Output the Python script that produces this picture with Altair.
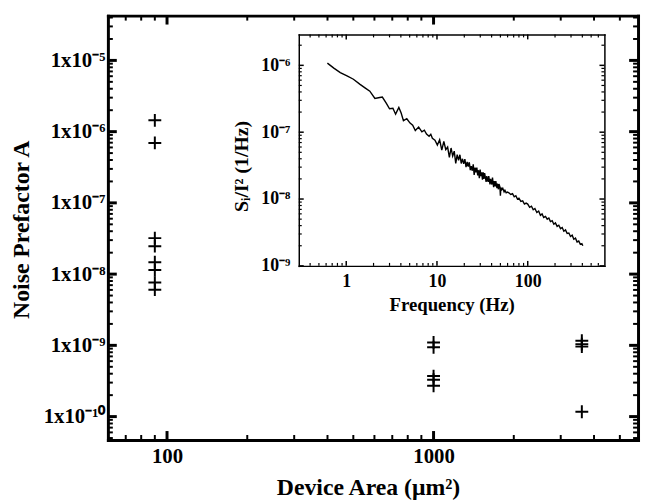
import math
import altair as alt
import pandas as pd

# ---------------- data ----------------
area = [90, 90, 90, 90, 90, 90, 90, 90,
        1000, 1000, 1000, 1000, 1000,
        3600, 3600, 3600, 3600]
prefactor = [1.44e-6, 6.95e-7, 3.2e-8, 2.47e-8, 1.47e-8, 1.14e-8, 7.6e-9, 6.05e-9,
             1.10e-9, 9.4e-10, 3.7e-10, 3.3e-10, 2.7e-10,
             1.16e-9, 1.04e-9, 9.6e-10, 1.17e-10]

freq = [0.62, 0.73, 0.86, 1.02, 1.2, 1.42, 1.61, 1.82, 2.07, 2.34, 2.5, 2.77, 3.0, 3.27,
        3.5, 3.8, 4.03, 4.27, 4.65, 5.05, 5.4, 5.77, 6.28, 6.82, 7.26, 7.67, 8.19, 8.55, 8.9,
        9.5, 10.1, 10.7, 11.3, 11.9, 12.5, 13.1, 13.7, 14.3, 14.9, 15.5, 16.1, 16.7, 17.3,
        17.9, 18.5, 19.1, 19.7, 20.3, 20.9, 21.5, 22.1, 22.7, 23.3, 23.9, 24.5, 25.1, 25.7,
        26.3, 26.9, 27.5, 28.1, 28.7, 29.3, 29.9, 30.5, 31.1, 31.7, 32.3, 32.9, 33.5, 34.8,
        35.4, 36.6, 37.2, 38.4, 39.0, 40.3, 40.9, 42.1, 42.7, 43.9, 44.5, 45.8, 46.4, 47.6,
        48.2, 49.4, 50.0, 50.6, 51.8, 53.1, 54.9, 56.1, 57.9, 59.8,
        62, 65, 68, 71, 74, 77, 80, 84, 88, 92, 96,
        100, 105, 110, 115, 120, 126, 132, 138, 144, 150, 157, 164, 171, 178, 186, 194,
        202, 211, 220, 230, 240, 250, 261, 272, 284, 296, 309, 322, 336, 350, 365, 380,
        395, 405]
spec = [1.08e-6, 9.1e-7, 7.8e-7, 6.95e-7, 6.2e-7, 5.2e-7, 4.6e-7, 4.1e-7, 3.2e-7, 3.3e-7,
        3.35e-7, 2.7e-7, 2.24e-7, 2.28e-7, 1.86e-7, 2.34e-7, 1.93e-7, 1.49e-7, 1.59e-7,
        1.37e-7, 1.27e-7, 1.06e-7, 1.19e-7, 1.01e-7, 1.07e-7, 9.4e-8, 8.7e-8, 9.3e-8, 8.1e-8,
        7.6e-8, 6.4e-8, 7.7e-8, 5.4e-8, 7.3e-8, 5.5e-8, 6.0e-8, 4.2e-8, 5.8e-8, 4.4e-8,
        5.2e-8, 3.4e-8, 4.6e-8, 3.8e-8, 4.6e-8, 3.4e-8, 4.0e-8, 3.35e-8, 3.95e-8, 3.0e-8,
        3.6e-8, 3.05e-8, 3.55e-8, 2.7e-8, 3.1e-8, 2.65e-8, 3.3e-8, 2.3e-8, 2.95e-8, 2.5e-8,
        2.95e-8, 2.25e-8, 2.7e-8, 2.05e-8, 2.75e-8, 2.2e-8, 2.5e-8, 1.95e-8, 2.5e-8, 2.0e-8,
        2.45e-8, 1.8e-8, 2.2e-8, 1.8e-8, 2.2e-8, 1.65e-8, 2.0e-8, 1.65e-8, 2.1e-8, 1.5e-8,
        1.85e-8, 1.55e-8, 1.85e-8, 1.45e-8, 1.7e-8, 1.4e-8, 1.68e-8, 1.52e-8, 1.12e-8,
        1.48e-8, 1.38e-8, 1.45e-8, 1.28e-8, 1.35e-8, 1.24e-8, 1.27e-8,
        1.24e-8, 1.17e-8, 1.2e-8, 1.08e-8, 1.12e-8, 1.0e-8, 1.03e-8, 9.2e-9, 9.4e-9, 8.4e-9,
        8.7e-9,
        8.4e-9, 7.5e-9, 7.8e-9, 6.9e-9, 7.2e-9, 6.3e-9, 6.6e-9, 5.7e-9, 6.0e-9, 5.3e-9,
        5.5e-9, 5.0e-9, 5.2e-9, 4.6e-9, 4.75e-9, 4.2e-9, 4.4e-9, 3.9e-9, 4.05e-9, 3.6e-9,
        3.75e-9, 3.3e-9, 3.45e-9, 3.05e-9, 3.1e-9, 2.75e-9, 2.88e-9, 2.5e-9, 2.6e-9, 2.28e-9,
        2.35e-9, 2.1e-9, 2.15e-9, 2.0e-9]

main_x_ticks = [100, 1000]
main_x_labels = ["100", "1000"]
main_y_ticks = [1e-10, 1e-9, 1e-8, 1e-7, 1e-6, 1e-5]
main_y_labels = ["1x10⁻¹⁰", "1x10⁻⁹", "1x10⁻⁸", "1x10⁻⁷", "1x10⁻⁶", "1x10⁻⁵"]
inset_x_ticks = [1, 10, 100]
inset_x_labels = ["1", "10", "100"]
inset_y_ticks = [1e-9, 1e-8, 1e-7, 1e-6]
inset_y_labels = ["10⁻⁹", "10⁻⁸", "10⁻⁷", "10⁻⁶"]

main_x_domain = [60, 5850]
main_y_domain = [4.7e-11, 4.25e-5]
inset_x_domain = [0.3, 700]
inset_y_domain = [1e-9, 2.9e-6]

# ---------------- layout ----------------
W, H = 536, 429
IX0, IX1 = 193, 502      # inset frame, plot-area pixels
IY0, IY1 = 19, 253
FONT = "Liberation Serif"
PLUS = "M-1,0L1,0M0,-1L0,1"

pts = pd.DataFrame({"area": area, "prefactor": prefactor})
sp = pd.DataFrame({"freq": freq, "spec": spec})


def minor(domain):
    lo, hi = domain
    out = []
    for k in range(math.floor(math.log10(lo)), math.ceil(math.log10(hi)) + 1):
        for m in range(2, 10):
            v = float(f"{m}e{k}")
            if lo < v < hi:
                out.append(v)
    return out


def label_expr(values, labels):
    expr = f"'{labels[-1]}'"
    for i in range(len(values) - 2, -1, -1):
        thr = math.sqrt(values[i] * values[i + 1])
        expr = f"datum.value < {thr:.6g} ? '{labels[i]}' : ({expr})"
    return expr


def mscale_x():
    return alt.Scale(type="log", domain=main_x_domain, nice=False)


def mscale_y():
    return alt.Scale(type="log", domain=main_y_domain, nice=False)


def iscale_x():
    return alt.Scale(type="log", domain=inset_x_domain, nice=False, range=[IX0, IX1])


def iscale_y():
    return alt.Scale(type="log", domain=inset_y_domain, nice=False, range=[IY1, IY0])


def frame_axis(orient, offset, dwidth):
    return alt.Axis(orient=orient, offset=offset, ticks=False, tickSize=0, labels=False,
                    grid=False, title=None, domain=True, domainColor="black",
                    domainWidth=dwidth, domainCap="square")


def frame_layer(df, xf, yf, xs, ys, xaxis, yaxis):
    return alt.Chart(df).mark_point(opacity=0).encode(
        x=alt.X(f"{xf}:Q", scale=xs, axis=xaxis),
        y=alt.Y(f"{yf}:Q", scale=ys, axis=yaxis),
    )


def xticks(values, scale, y0, y1, width):
    return alt.Chart(pd.DataFrame({"v": values})).mark_rule(
        color="black", strokeWidth=width).encode(
        x=alt.X("v:Q", scale=scale, axis=None),
        y=alt.value(y0), y2=alt.value(y1))


def yticks(values, scale, x0, x1, width):
    return alt.Chart(pd.DataFrame({"v": values})).mark_rule(
        color="black", strokeWidth=width).encode(
        y=alt.Y("v:Q", scale=scale, axis=None),
        x=alt.value(x0), x2=alt.value(x1))


lab = dict(labelFont=FONT, labelFontWeight="bold", labelColor="black",
           labelFlush=False, labelOverlap=False, ticks=False, tickSize=0,
           grid=False, domain=True, domainColor="black", domainCap="square",
           titleFont=FONT, titleFontWeight="bold", titleColor="black",
           titleAlign="center", titleBaseline="middle")

# ---------------- main plot ----------------
main_points = alt.Chart(pts).mark_point(
    shape=PLUS, filled=False, color="black", strokeWidth=2, size=169, opacity=1
).encode(
    x=alt.X("area:Q", scale=mscale_x(), axis=alt.Axis(
        orient="bottom", values=main_x_ticks,
        labelExpr=label_expr(main_x_ticks, main_x_labels),
        labelFontSize=21, labelPadding=6, domainWidth=3,
        title="Device Area (μm²)", titleFontSize=24,
        titleX=263, titleY=48, **lab)),
    y=alt.Y("prefactor:Q", scale=mscale_y(), axis=alt.Axis(
        orient="left", values=main_y_ticks,
        labelExpr=label_expr(main_y_ticks, main_y_labels),
        labelFontSize=21, labelPadding=3, domainWidth=3,
        title="Noise Prefactor A", titleFontSize=24, titleAngle=270,
        titleX=-87, titleY=216, **lab)),
)

mx_minor = minor(main_x_domain)
my_minor = minor(main_y_domain)
MJ, MN = 9, 5
MJW, MNW = 3, 2

main_layers = [
    frame_layer(pts, "area", "prefactor", mscale_x(), mscale_y(),
                frame_axis("bottom", -H, 3), frame_axis("left", -W, 3)),
    # bottom & top ticks (inward)
    xticks(main_x_ticks, mscale_x(), H, H - MJ, MJW),
    xticks(mx_minor, mscale_x(), H, H - MN, MNW),
    xticks(main_x_ticks, mscale_x(), 0, MJ, MJW),
    xticks(mx_minor, mscale_x(), 0, MN, MNW),
    # left & right ticks (inward)
    yticks(main_y_ticks, mscale_y(), 0, MJ, MJW),
    yticks(my_minor, mscale_y(), 0, MN, MNW),
    yticks(main_y_ticks, mscale_y(), W, W - MJ, MJW),
    yticks(my_minor, mscale_y(), W, W - MN, MNW),
    main_points,
]

# ---------------- inset ----------------
inset_line = alt.Chart(sp).mark_line(color="black", strokeWidth=1.4).encode(
    x=alt.X("freq:Q", scale=iscale_x(), axis=alt.Axis(
        orient="bottom", offset=-(H - IY1), values=inset_x_ticks,
        labelExpr=label_expr(inset_x_ticks, inset_x_labels),
        labelFontSize=18, labelPadding=7, domainWidth=1.5,
        title="Frequency (Hz)", titleFontSize=19,
        titleX=(IX0 + IX1) / 2, titleY=39, **lab)),
    y=alt.Y("spec:Q", scale=iscale_y(), axis=alt.Axis(
        orient="left", offset=-IX0, values=inset_y_ticks,
        labelExpr=label_expr(inset_y_ticks, inset_y_labels),
        labelFontSize=18, labelPadding=9, domainWidth=1.5,
        title="Sᵢ/I² (1/Hz)", titleFontSize=20, titleAngle=270,
        titleX=-58, titleY=152, **lab)),
)

ix_minor = minor(inset_x_domain)
iy_minor = minor(inset_y_domain)
IJ, IN = 5, 3
IJW, INW = 1.5, 1.2

inset_layers = [
    frame_layer(sp, "freq", "spec", iscale_x(), iscale_y(),
                frame_axis("bottom", -(H - IY0), 1.5), frame_axis("left", -IX1, 1.5)),
    xticks(inset_x_ticks, iscale_x(), IY1, IY1 - IJ, IJW),
    xticks(ix_minor, iscale_x(), IY1, IY1 - IN, INW),
    xticks(inset_x_ticks, iscale_x(), IY0, IY0 + IJ, IJW),
    xticks(ix_minor, iscale_x(), IY0, IY0 + IN, INW),
    yticks(inset_y_ticks, iscale_y(), IX0, IX0 + IJ, IJW),
    yticks(iy_minor, iscale_y(), IX0, IX0 + IN, INW),
    yticks(inset_y_ticks, iscale_y(), IX1, IX1 - IJ, IJW),
    yticks(iy_minor, iscale_y(), IX1, IX1 - IN, INW),
    inset_line,
]

chart = alt.layer(*main_layers, *inset_layers).resolve_scale(
    x="independent", y="independent"
).resolve_axis(
    x="independent", y="independent"
).properties(
    width=W, height=H,
    autosize=alt.AutoSizeParams(type="none"),
    padding={"left": 101, "top": 5, "right": 3, "bottom": 59},
).configure_view(strokeWidth=0)

chart.save("out.html", embed_options={"renderer": "svg", "actions": False})
